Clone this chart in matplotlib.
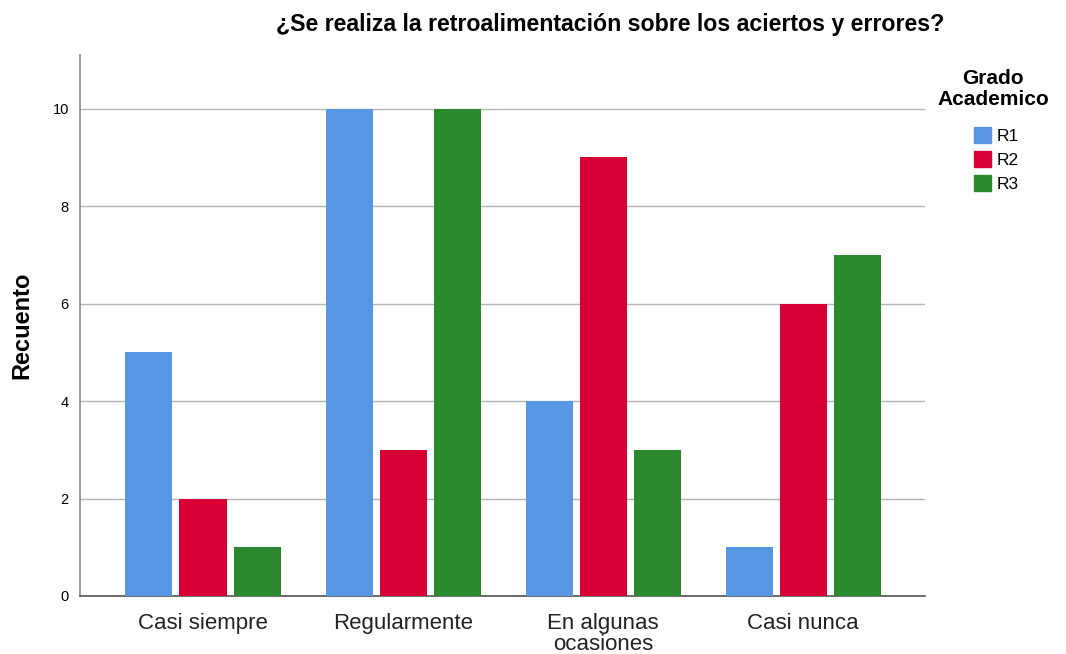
import numpy as np
import matplotlib.pyplot as plt
from matplotlib.patches import Patch

plt.rcParams['font.family'] = ['Liberation Sans', 'DejaVu Sans']

categorias = ["Casi siempre", "Regularmente", "En algunas\nocasiones", "Casi nunca"]
grupos = ["R1", "R2", "R3"]
r1 = [5, 10, 4, 1]
r2 = [2, 3, 9, 6]
r3 = [1, 10, 3, 7]
colores = ["#5796e3", "#d70034", "#2b8a2e"]

fig = plt.figure(figsize=(10.66, 6.54), dpi=100)
ax = fig.add_axes([0.075, 0.0887, 0.793, 0.827])

x = np.arange(len(categorias))
ancho = 0.235
paso = 0.27
for i, (vals, col) in enumerate(zip([r1, r2, r3], colores)):
    ax.bar(x + (i - 1) * paso, vals, width=ancho, color=col, zorder=3)

ax.set_xlim(-0.615, 3.61)
ax.set_ylim(0, 11.1)
ax.set_yticks([0, 2, 4, 6, 8, 10])
ax.set_xticks(x)
ax.set_xticklabels(categorias, fontsize=16, color="#222222", linespacing=1.0)
ax.tick_params(axis="y", labelsize=10.5, length=0, pad=8)
ax.tick_params(axis="x", length=0, pad=12)
ax.yaxis.grid(True, color="#b4b4b4", linewidth=1, zorder=0)

for s in ["top", "right"]:
    ax.spines[s].set_visible(False)
ax.spines["left"].set_color("#8a8a8a")
ax.spines["bottom"].set_color("#555555")
ax.spines["left"].set_linewidth(1.2)
ax.spines["bottom"].set_linewidth(1.2)

ax.set_ylabel("Recuento", fontsize=17, fontweight="bold", labelpad=14)
fig.text(0.572, 0.963, "¿Se realiza la retroalimentación sobre los aciertos y errores?",
         ha="center", va="center", fontsize=16.7, fontweight="bold")

# titulo de la leyenda aparte
fig.text(993 / 1066, 1 - 89 / 654, "Grado\nAcademico", ha="center", va="center",
         fontsize=15, fontweight="bold", linespacing=1.15)

handles = [Patch(color=c, label=g) for g, c in zip(grupos, colores)]
fig.legend(handles=handles, loc="upper left",
           bbox_to_anchor=(974 / 1066, 1 - 127 / 654), frameon=False,
           fontsize=12.5, borderpad=0, borderaxespad=0,
           handlelength=1.0, handleheight=1.0, handletextpad=0.3,
           labelspacing=0.42)

fig.savefig("out.png", dpi=100)
